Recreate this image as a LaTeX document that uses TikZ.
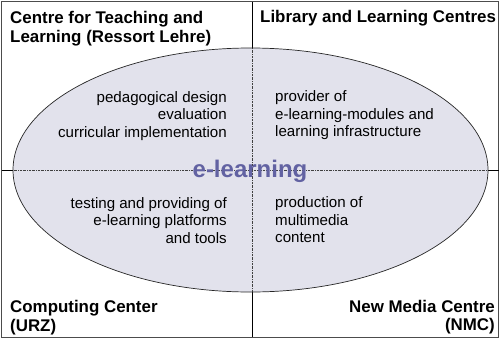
\documentclass[tikz,border=0pt]{standalone}
\usepackage{fontspec}
\setmainfont{Liberation Sans}
\begin{document}
\begin{tikzpicture}[x=1pt,y=-1pt,
  head/.style={inner sep=0pt,font=\fontsize{16.9}{19}\selectfont\bfseries},
  body/.style={inner sep=0pt,font=\fontsize{15.1}{17.5}\selectfont},
  frameline/.style={draw=black,line width=0.8pt},
  innerline/.style={draw=black!75,line width=0.6pt,dash pattern=on 2pt off 1pt on 0.5pt off 1pt}]
\definecolor{ellfill}{HTML}{E2E2EC}
\definecolor{elltext}{HTML}{6262A2}
\useasboundingbox (0,0) rectangle (500,340);
% frame
\draw[draw=black!70,line width=0.8pt] (1.5,1.5) rectangle (498.5,337);
\coordinate (vt) at (252.5,1.5);
\coordinate (vb) at (252.5,337);
\coordinate (hl) at (1.5,170);
\coordinate (hr) at (498.5,170);
\draw[frameline] (vt) -- (vb);
\draw[frameline] (hl) -- (hr);
% ellipse
\coordinate (ec) at (250.5,170);
\fill[ellfill] (ec) ellipse [x radius=237.5, y radius=122];
\begin{scope}
\clip (ec) ellipse [x radius=237.5, y radius=122];
\draw[innerline] (vt) -- (vb);
\draw[innerline] (hl) -- (hr);
\end{scope}
\draw[black!85,line width=0.7pt] (ec) ellipse [x radius=237.5, y radius=122];
% headings
\node[head,anchor=base west] (h1a) at (10,23) {Centre for Teaching and};
\node[head,anchor=base west] (h1b) at (10,42) {Learning (Ressort Lehre)};
\node[head,anchor=base west] (h2) at (260,22) {Library and Learning Centres};
\node[head,anchor=base west] (h3a) at (10,312) {Computing Center};
\node[head,anchor=base west] (h3b) at (10,331) {(URZ)};
\node[head,anchor=base east] (h4a) at (495,312) {New Media Centre};
\node[head,anchor=base east] (h4b) at (495,330.5) {(NMC)};
% body text
\node[body,anchor=base east] (t1a) at (227,102) {pedagogical design};
\node[body,anchor=base east] (t1b) at (227,119.5) {evaluation};
\node[body,anchor=base east] (t1c) at (227,137) {curricular implementation};
\node[body,anchor=base west] (t2a) at (275,101.5) {provider of};
\node[body,anchor=base west] (t2b) at (275,119) {e-learning-modules and};
\node[body,anchor=base west] (t2c) at (275,136.5) {learning infrastructure};
\node[body,anchor=base east] (t3a) at (227,208) {testing and providing of};
\node[body,anchor=base east] (t3b) at (227,225.5) {e-learning platforms};
\node[body,anchor=base east] (t3c) at (227,243) {and tools};
\node[body,anchor=base west] (t4a) at (275,207.5) {production of};
\node[body,anchor=base west] (t4b) at (275,225) {multimedia};
\node[body,anchor=base west] (t4c) at (275,242.5) {content};
% centre label
\node[inner sep=0pt,anchor=base,text=elltext,font=\fontsize{24}{27}\selectfont\bfseries] (el) at (250,177.5) {e-learning};
\end{tikzpicture}
\end{document}
